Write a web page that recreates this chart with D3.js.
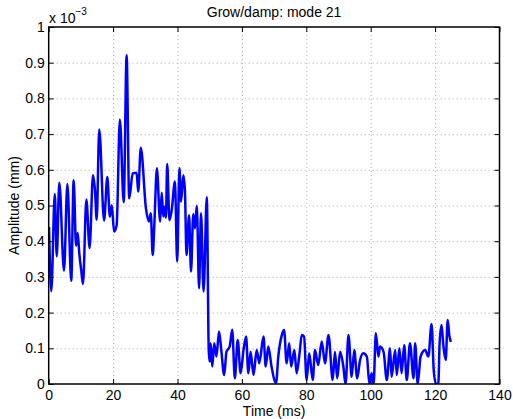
<!DOCTYPE html>
<html>
<head>
<meta charset="utf-8">
<script src="https://cdn.jsdelivr.net/npm/d3@7"></script>
<style>
  body { margin: 0; background: #fff; }
  svg { display: block; font-family: "Liberation Sans", Arial, Helvetica, sans-serif; }
  .grid line { stroke: #aaa; stroke-dasharray: 1 3; stroke-width: 1; }
  .grid .domain { display: none; }
  .axis text { font-size: 14px; fill: #000; }
  .axis line { stroke: #000; stroke-width: 1; }
  .axis .domain { display: none; }
</style>
</head>
<body>
<svg id="chart"></svg>
<script>
// time (ms) and amplitude (x 1e-3 mm) at the turning points
const timeMs = [
  0.1, 0.8, 1.9, 2.5, 3.3, 4.75, 5.8, 7.0, 7.75, 8.5, 9.0, 9.5, 10.1, 10.65,
  11.7, 12.7, 13.75, 14.4, 14.9, 15.7, 17.2, 18.2, 19.0, 19.6, 20.3, 21.1,
  22.1, 23.3, 24.2, 25.0, 26.1, 27.3, 27.8, 28.6, 30.2, 31.1, 31.7, 32.3,
  32.8, 33.6, 34.6, 35.1, 35.6, 36.1, 36.4, 36.8, 37.5, 38.2, 39.2, 39.9,
  40.6, 41.1, 41.8, 42.3, 42.8, 43.6, 44.2, 44.9, 45.4, 46.0, 46.7, 47.3,
  48.1, 49.1, 49.7, 50.0, 50.3, 50.8, 51.4, 52.1, 52.9, 53.6, 54.5, 55.2,
  56.2, 57.0, 57.8, 58.7, 59.6, 60.5, 61.3, 62.0, 62.7, 63.6, 64.6, 65.4,
  66.7, 67.4, 68.2, 69.2, 70.6, 71.3, 72.4, 73.1, 73.9, 74.7, 75.3, 76.3,
  77.0, 77.9, 78.6, 79.3, 80.1, 80.9, 82.0, 82.7, 83.7, 84.8, 85.8, 86.9,
  88.2, 88.9, 89.6, 90.5, 91.5, 92.2, 93.1, 94.1, 94.9, 95.8, 96.7, 97.7,
  98.8, 99.6, 100.3, 100.9, 101.6, 102.4, 102.9, 104.0, 105.0, 106.0, 106.5,
  107.6, 108.1, 108.9, 109.6, 110.4, 111.2, 112.2, 113.3, 113.8, 114.6,
  115.5, 116.9, 117.9, 118.9, 119.6, 120.3, 121.0, 121.4, 122.0, 122.6,
  123.3, 123.9, 124.4, 124.9
];
const amplitude = [
  0.44, 0.26, 0.532, 0.358, 0.564, 0.317, 0.56, 0.289, 0.571, 0.387, 0.423,
  0.366, 0.319, 0.28, 0.517, 0.381, 0.585, 0.539, 0.46, 0.713, 0.458, 0.58,
  0.469, 0.501, 0.427, 0.445, 0.741, 0.509, 0.921, 0.52, 0.59, 0.592, 0.539,
  0.662, 0.492, 0.455, 0.478, 0.361, 0.445, 0.604, 0.455, 0.536, 0.469,
  0.497, 0.466, 0.616, 0.459, 0.487, 0.567, 0.343, 0.604, 0.511, 0.585,
  0.543, 0.361, 0.473, 0.315, 0.476, 0.436, 0.499, 0.268, 0.478, 0.259,
  0.523, 0.095, 0.063, 0.114, 0.049, 0.114, 0.077, 0.147, 0.095, 0.025,
  0.09, 0.105, 0.152, 0.016, 0.123, 0.03, 0.095, 0.133, 0.03, 0.09, 0.025,
  0.095, 0.058, 0.133, 0.049, 0.105, 0.049, 0.002, 0.077, 0.137, 0.151,
  0.058, 0.114, 0.049, 0.095, 0.03, 0.086, 0.137, 0.133, 0.011, 0.086,
  0.011, 0.095, 0.053, 0.119, 0.058, 0.137, 0.011, 0.09, 0.016, 0.09, 0.049,
  0.0, 0.137, 0.02, 0.095, 0.016, 0.067, 0.086, 0.077, 0.0, 0.03, 0.0, 0.142,
  0.077, 0.105, 0.09, 0.011, 0.1, 0.02, 0.095, 0.025, 0.1, 0.03, 0.109,
  0.011, 0.114, 0.016, 0.114, 0.0, 0.077, 0.095, 0.077, 0.168, 0.035, 0.0,
  0.0, 0.114, 0.165, 0.105, 0.067, 0.179, 0.137, 0.118
];
const xTicks = [0, 20, 40, 60, 80, 100, 120, 140];
const yTicks = [0, 0.1, 0.2, 0.3, 0.4, 0.5, 0.6, 0.7, 0.8, 0.9, 1];

const width = 513, height = 419;
const margin = { left: 48.7, top: 27, right: 13.5, bottom: 35 };
const innerWidth = width - margin.left - margin.right;
const innerHeight = height - margin.top - margin.bottom;
const tickLen = 5;

const svg = d3.select("#chart").attr("width", width).attr("height", height);
const g = svg.append("g").attr("transform", `translate(${margin.left},${margin.top})`);

const x = d3.scaleLinear().domain([0, 140]).range([0, innerWidth]);
const y = d3.scaleLinear().domain([0, 1]).range([innerHeight, 0]);

// dotted grid (no labels)
g.append("g").attr("class", "grid")
  .attr("transform", `translate(0,${innerHeight})`)
  .call(d3.axisBottom(x).tickValues(xTicks.slice(1, -1)).tickSize(-innerHeight))
  .call(s => s.selectAll("text").remove());
g.append("g").attr("class", "grid")
  .call(d3.axisLeft(y).tickValues(yTicks.slice(1, -1)).tickSize(-innerWidth))
  .call(s => s.selectAll("text").remove());

// data line
g.append("clipPath").attr("id", "clip")
  .append("rect").attr("width", innerWidth).attr("height", innerHeight);

const data = timeMs.map((t, i) => ({ t, v: amplitude[i] }));
g.append("path")
  .datum(data)
  .attr("clip-path", "url(#clip)")
  .attr("fill", "none")
  .attr("stroke", "#0000ff")
  .attr("stroke-width", 2.5)
  .attr("stroke-linejoin", "round")
  .attr("d", d3.line().x(d => x(d.t)).y(d => y(d.v)).curve(d3.curveMonotoneX));

// axes with inward ticks on all four sides
g.append("g").attr("class", "axis")
  .attr("transform", `translate(0,${innerHeight})`)
  .call(d3.axisBottom(x).tickValues(xTicks).tickSize(-tickLen).tickPadding(6).tickFormat(d3.format("d")));
g.append("g").attr("class", "axis")
  .call(d3.axisTop(x).tickValues(xTicks).tickSize(-tickLen))
  .call(s => s.selectAll("text").remove());
g.append("g").attr("class", "axis")
  .call(d3.axisLeft(y).tickValues(yTicks).tickSize(-tickLen).tickPadding(4).tickFormat(d => String(+d.toFixed(1))));
g.append("g").attr("class", "axis")
  .attr("transform", `translate(${innerWidth},0)`)
  .call(d3.axisRight(y).tickValues(yTicks).tickSize(-tickLen))
  .call(s => s.selectAll("text").remove());

g.append("rect")
  .attr("width", innerWidth).attr("height", innerHeight)
  .attr("fill", "none").attr("stroke", "#000").attr("stroke-width", 1.5);

// titles
svg.append("text")
  .attr("x", margin.left + innerWidth / 2).attr("y", 17)
  .attr("text-anchor", "middle").style("font-size", "14px")
  .text("Grow/damp: mode 21");

svg.append("text")
  .attr("x", margin.left + innerWidth / 2).attr("y", 416)
  .attr("text-anchor", "middle").style("font-size", "14px")
  .text("Time (ms)");

svg.append("text")
  .attr("transform", `translate(19,${margin.top + innerHeight / 2}) rotate(-90)`)
  .attr("text-anchor", "middle").style("font-size", "14px")
  .text("Amplitude (mm)");

const exponent = svg.append("text").attr("x", 49).attr("y", 22.5).style("font-size", "14px");
exponent.append("tspan").text("x 10");
exponent.append("tspan").attr("dy", -8).style("font-size", "10px").text("−3");
</script>
</body>
</html>
